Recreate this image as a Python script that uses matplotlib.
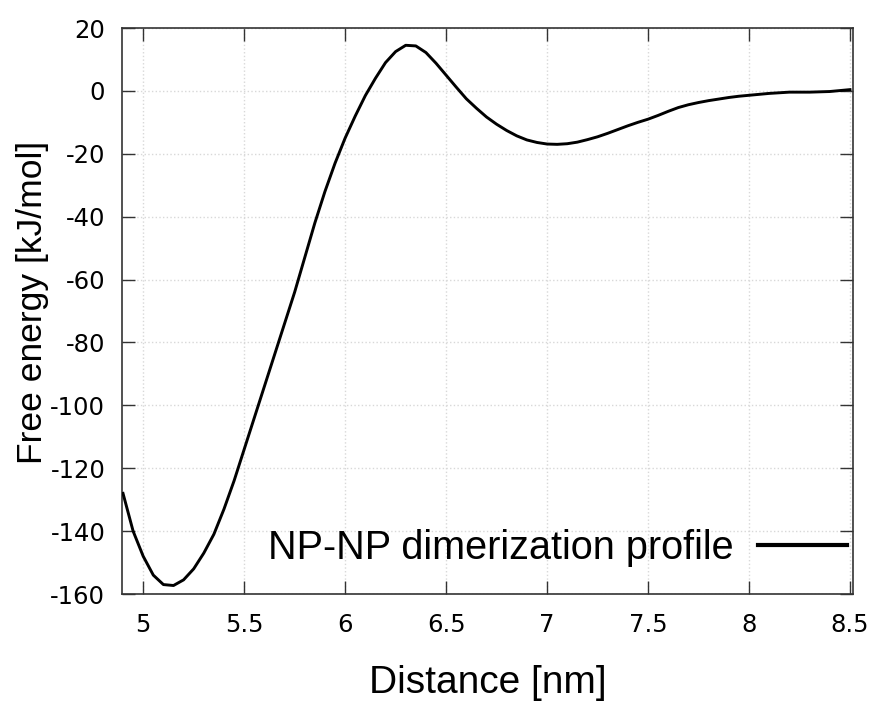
import matplotlib
matplotlib.use("Agg")
import matplotlib.pyplot as plt

# Data
distance = [4.90, 4.95, 5.00, 5.05, 5.10, 5.15, 5.20, 5.25, 5.30, 5.35, 5.40, 5.45,
            5.50, 5.55, 5.60, 5.65, 5.70, 5.75, 5.80, 5.85, 5.90, 5.95, 6.00, 6.05,
            6.10, 6.15, 6.20, 6.25, 6.30, 6.35, 6.40, 6.45, 6.50, 6.55, 6.60, 6.65,
            6.70, 6.75, 6.80, 6.85, 6.90, 6.95, 7.00, 7.05, 7.10, 7.15, 7.20, 7.25,
            7.30, 7.35, 7.40, 7.45, 7.50, 7.55, 7.60, 7.65, 7.70, 7.75, 7.80, 7.85,
            7.90, 7.95, 8.00, 8.10, 8.20, 8.30, 8.40, 8.50]
free_energy = [-128, -140, -148, -154, -157, -157.3, -155.5, -152, -147, -141, -133, -124,
               -114, -104, -94, -84, -74, -64, -53, -42, -32, -23, -15, -8,
               -1.5, 4, 9, 12.5, 14.5, 14.3, 12.2, 8.8, 5, 1.2, -2.5, -5.5,
               -8.3, -10.6, -12.6, -14.3, -15.6, -16.4, -16.9, -17.0, -16.8, -16.3, -15.5, -14.6,
               -13.5, -12.3, -11.1, -10.0, -9.0, -7.8, -6.5, -5.3, -4.4, -3.7, -3.1, -2.6,
               -2.1, -1.7, -1.4, -0.8, -0.4, -0.4, -0.2, 0.4]
x_ticks = [5, 5.5, 6, 6.5, 7, 7.5, 8, 8.5]
x_tick_labels = ["5", "5.5", "6", "6.5", "7", "7.5", "8", "8.5"]
y_ticks = [20, 0, -20, -40, -60, -80, -100, -120, -140, -160]
y_tick_labels = ["20", "0", "-20", "-40", "-60", "-80", "-100", "-120", "-140", "-160"]
series_label = "NP-NP dimerization profile"

W, H = 880, 702
fig = plt.figure(figsize=(W / 100, H / 100), dpi=100)
ax = fig.add_axes([122 / W, 1 - 594 / H, (853 - 122) / W, (594 - 28) / H])

ax.plot(distance, free_energy, color="black", lw=2.1, label=series_label, zorder=3)

ax.set_xlim(4.895, 8.515)
ax.set_ylim(-160, 20)
ax.set_xticks(x_ticks)
ax.set_xticklabels(x_tick_labels)
ax.set_yticks(y_ticks)
ax.set_yticklabels(y_tick_labels)

ax.grid(True, color="#d8d8d8", linestyle=":", linewidth=1.0, zorder=0)
ax.tick_params(direction="in", length=9.5, width=1.0, color="#333333",
               top=True, right=True, labelsize=17.5)
ax.tick_params(axis="x", pad=14)
ax.tick_params(axis="y", pad=12)
for lab in ax.get_xticklabels() + ax.get_yticklabels():
    lab.set_family("DejaVu Sans")
for sp in ax.spines.values():
    sp.set_color("#333333")
    sp.set_linewidth(1.2)

ax.set_xlabel("Distance [nm]", family="Liberation Sans", fontsize=28, labelpad=20)
ax.set_ylabel("Free energy [kJ/mol]", family="Liberation Sans", fontsize=25.5)
ax.yaxis.set_label_coords((49 - 122) / 731, (594 - 302) / 566)

leg = ax.legend(loc="center right", bbox_to_anchor=(847 / W, 1 - 548 / H),
                bbox_transform=fig.transFigure, frameon=False, markerfirst=False,
                handlelength=2.25, handletextpad=0.62, borderpad=0, borderaxespad=0,
                prop={"family": "Liberation Sans", "size": 28.5})
for h in leg.get_lines():
    h.set_linewidth(3.0)

fig.savefig("out.png", dpi=100)
